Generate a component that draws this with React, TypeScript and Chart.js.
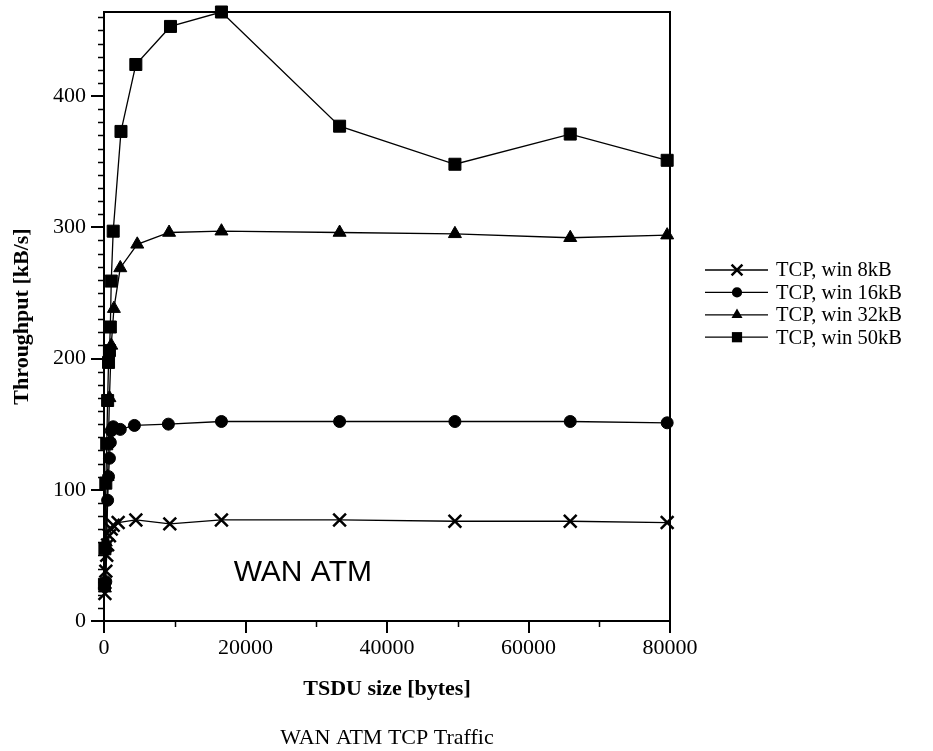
import React, { useEffect, useRef } from 'react';
import { Chart, registerables } from 'chart.js';

Chart.register(...registerables);

// ---- data ----
const seriesLabels = ['TCP, win 8kB', 'TCP, win 16kB', 'TCP, win 32kB', 'TCP, win 50kB'];

const sizes8 = [128, 256, 384, 512, 768, 1024, 1300, 2000, 4500, 9300, 16600, 33300, 49600, 65900, 79600];
const tput8 = [21, 38, 50, 58, 65, 70, 73, 75, 77, 74, 77, 77, 76, 76, 75];

const sizes16 = [256, 512, 640, 768, 896, 1024, 1300, 2300, 4300, 9100, 16600, 33300, 49600, 65900, 79600];
const tput16 = [30, 92, 110, 124, 136, 145, 148, 146, 149, 150, 152, 152, 152, 152, 151];

const sizes32 = [128, 256, 512, 768, 1024, 1400, 2300, 4700, 9200, 16600, 33300, 49600, 65900, 79600];
const tput32 = [25, 60, 110, 170, 210, 238, 269, 287, 296, 297, 296, 295, 292, 294];

const sizes50 = [64, 128, 256, 384, 512, 640, 768, 896, 1024, 1300, 2400, 4500, 9400, 16600, 33300, 49600, 65900, 79600];
const tput50 = [28, 55, 105, 135, 168, 197, 206, 224, 259, 297, 373, 424, 453, 464, 377, 348, 371, 351];

const xTickValues = [0, 20000, 40000, 60000, 80000];
const yTickValues = [0, 100, 200, 300, 400];
const xMin = 0, xMax = 80000, yMin = 0, yMax = 464;

const xTitle = 'TSDU size [bytes]';
const yTitle = 'Throughput [kB/s]';
const caption = 'WAN ATM TCP Traffic';
const annotText = 'WAN ATM';
const annotX = 28100;
const annotY = 37;

const pointStyles = ['crossRot', 'circle', 'triangle', 'rect'];
const pointRadii = [9, 6, 7.5, 8.5];

const SERIF = '"Liberation Serif", "Times New Roman", serif';

function toPoints(xs: number[], ys: number[]) {
  return xs.map((x, i) => ({ x, y: ys[i] }));
}

function drawMarker(ctx: CanvasRenderingContext2D, style: string, cx: number, cy: number, r: number) {
  ctx.beginPath();
  if (style === 'crossRot') {
    const d = r * Math.SQRT1_2;
    ctx.lineWidth = 2.5;
    ctx.moveTo(cx - d, cy - d); ctx.lineTo(cx + d, cy + d);
    ctx.moveTo(cx - d, cy + d); ctx.lineTo(cx + d, cy - d);
    ctx.stroke();
  } else if (style === 'circle') {
    ctx.arc(cx, cy, r, 0, Math.PI * 2);
    ctx.fill();
  } else if (style === 'triangle') {
    ctx.moveTo(cx, cy - r);
    ctx.lineTo(cx + r * 0.866, cy + r * 0.5);
    ctx.lineTo(cx - r * 0.866, cy + r * 0.5);
    ctx.closePath();
    ctx.fill();
  } else {
    const s = r * Math.SQRT1_2;
    ctx.rect(cx - s, cy - s, 2 * s, 2 * s);
    ctx.fill();
  }
}

const decorPlugin = {
  id: 'decor',
  afterDraw(chart: any) {
    const { ctx, chartArea: a, scales } = chart;
    const xs = scales.x, ys = scales.y;
    ctx.save();
    ctx.strokeStyle = '#000';
    ctx.fillStyle = '#000';
    // frame top & right
    ctx.lineWidth = 2;
    ctx.beginPath();
    ctx.moveTo(a.left, a.top);
    ctx.lineTo(a.right, a.top);
    ctx.lineTo(a.right, a.bottom);
    ctx.stroke();
    // minor y ticks
    ctx.lineWidth = 1.5;
    ctx.beginPath();
    for (let v = 10; v < yMax; v += 10) {
      if (v % 100 === 0) continue;
      const p = Math.round(ys.getPixelForValue(v)) + 0.5;
      ctx.moveTo(a.left - 6, p);
      ctx.lineTo(a.left, p);
    }
    // minor x ticks
    for (let v = 10000; v < xMax; v += 20000) {
      const p = Math.round(xs.getPixelForValue(v)) + 0.5;
      ctx.moveTo(p, a.bottom);
      ctx.lineTo(p, a.bottom + 6);
    }
    ctx.stroke();

    // annotation inside plot
    ctx.font = '30px "Liberation Sans", Arial, sans-serif';
    ctx.textAlign = 'center';
    ctx.textBaseline = 'middle';
    ctx.fillText(annotText, xs.getPixelForValue(annotX), ys.getPixelForValue(annotY));

    // caption
    ctx.font = '22px ' + SERIF;
    ctx.fillText(caption, (a.left + a.right) / 2, 738);

    // legend
    const lx0 = 705, lx1 = 768, lxm = 737, ltx = 776, ly0 = 270, ldy = 22.4;
    ctx.font = '20.5px ' + SERIF;
    ctx.textAlign = 'left';
    seriesLabels.forEach((lab, i) => {
      const y = ly0 + i * ldy;
      ctx.lineWidth = 1.3;
      ctx.beginPath();
      ctx.moveTo(lx0, y);
      ctx.lineTo(lx1, y);
      ctx.stroke();
      drawMarker(ctx, pointStyles[i], lxm, y, pointRadii[i] * 0.85);
      ctx.fillText(lab, ltx, y + 1);
    });
    ctx.restore();
  },
};

export default function App() {
  const ref = useRef<HTMLCanvasElement | null>(null);

  useEffect(() => {
    document.body.style.margin = '0';
    const canvas = ref.current!;
    const all = [
      toPoints(sizes8, tput8),
      toPoints(sizes16, tput16),
      toPoints(sizes32, tput32),
      toPoints(sizes50, tput50),
    ];
    const chart = new Chart(canvas, {
      type: 'scatter',
      data: {
        datasets: all.map((d, i) => ({
          label: seriesLabels[i],
          data: d,
          showLine: true,
          borderColor: '#000',
          backgroundColor: '#000',
          borderWidth: 1.3,
          pointStyle: pointStyles[i] as any,
          pointRadius: pointRadii[i],
          pointBorderWidth: i === 0 ? 2.5 : 1,
          pointBackgroundColor: '#000',
          pointBorderColor: '#000',
          clip: false as any,
        })),
      },
      options: {
        responsive: false,
        maintainAspectRatio: false,
        animation: false,
        layout: { padding: { left: 0, top: 12, right: 263, bottom: 45 } },
        plugins: {
          legend: { display: false },
          tooltip: { enabled: false },
          title: { display: false },
        },
        scales: {
          x: {
            type: 'linear',
            min: xMin,
            max: xMax,
            afterFit: (s: any) => { s.height = 85; s.paddingLeft = 0; s.paddingRight = 0; },
            afterBuildTicks: (s: any) => { s.ticks = xTickValues.map((v) => ({ value: v })); },
            grid: { drawOnChartArea: false, drawTicks: true, tickLength: 12, color: '#000', lineWidth: 2 },
            border: { display: true, color: '#000', width: 2 },
            ticks: {
              color: '#000',
              padding: 2,
              maxRotation: 0,
              font: { family: SERIF, size: 22 },
              callback: (v: any) => String(v),
            },
            title: {
              display: true,
              text: xTitle,
              color: '#000',
              font: { family: SERIF, size: 22, weight: 'bold' },
              padding: { top: 0, bottom: 3 },
            },
          },
          y: {
            type: 'linear',
            min: yMin,
            max: yMax,
            afterFit: (s: any) => { s.width = 104; s.paddingTop = 0; s.paddingBottom = 0; },
            afterBuildTicks: (s: any) => { s.ticks = yTickValues.map((v) => ({ value: v })); },
            grid: { drawOnChartArea: false, drawTicks: true, tickLength: 13, color: '#000', lineWidth: 2 },
            border: { display: true, color: '#000', width: 2 },
            ticks: {
              color: '#000',
              padding: 5,
              font: { family: SERIF, size: 22 },
              callback: (v: any) => String(v),
            },
            title: {
              display: true,
              text: yTitle,
              color: '#000',
              font: { family: SERIF, size: 22, weight: 'bold' },
              padding: { top: 9, bottom: 0 },
            },
          },
        },
      },
      plugins: [decorPlugin],
    });
    return () => chart.destroy();
  }, []);

  return (
    <div style={{ position: 'absolute', left: 0, top: 0, width: 933, height: 751, background: '#fff' }}>
      <canvas ref={ref} width={933} height={751} style={{ width: 933, height: 751, display: 'block' }} />
    </div>
  );
}
